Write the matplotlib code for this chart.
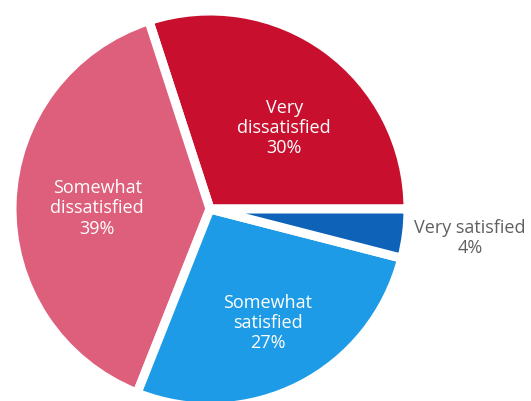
import numpy as np
import matplotlib.pyplot as plt

# Дані діаграми
categories = ['Very\ndissatisfied', 'Somewhat\ndissatisfied', 'Somewhat\nsatisfied', 'Very satisfied']
values = [30, 39, 27, 4]
colors = ['#C8102E', '#DE5F7B', '#1E9BE6', '#0E62B8']
text_colors = ['white', 'white', 'white', '#606060']

plt.rcParams['font.family'] = ['Open Sans', 'DejaVu Sans']

fig = plt.figure(figsize=(5.31, 4.02), dpi=100)
# центр круга ~ (210, 210) px від лівого верхнього кута, радіус ~198 px
R = 198
cx, cy = 210, 402 - 210
ax = fig.add_axes([(cx - R) / 531, (cy - R) / 402, 2 * R / 531, 2 * R / 402])

wedges, _ = ax.pie(values, colors=colors, startangle=0, counterclock=True,
                   radius=1, wedgeprops=dict(edgecolor='white', linewidth=6.5,
                                             joinstyle='round'))

# Позиції підписів: кут середини сектора та відстань від центру
label_r = [0.56, 0.57, 0.64, 1.32]
label_shift = [-6, 1, 0, 1]   # поправка кута, градуси
for w, lab, v, r, dth, tc in zip(wedges, categories, values, label_r, label_shift, text_colors):
    th = np.deg2rad((w.theta1 + w.theta2) / 2 + dth)
    ax.text(r * np.cos(th), r * np.sin(th), f'{lab}\n{v}%',
            ha='center', va='center', color=tc, fontsize=13, linespacing=1.15)

ax.set_xlim(-1, 1)
ax.set_ylim(-1, 1)
ax.set_aspect('equal')
ax.axis('off')

fig.savefig('out.png', dpi=100)
